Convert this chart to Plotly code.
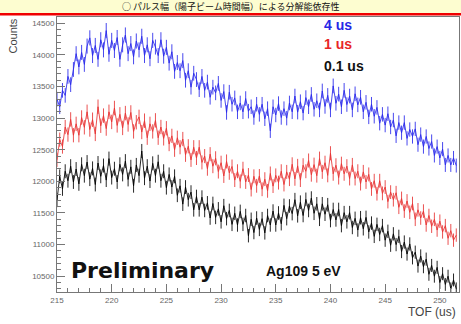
import plotly.graph_objects as go

# TOF bin centres (us), 0.25 us bins
tof_start = 215.0
tof_step = 0.25

counts_4us = [
13300,13180,13440,13360,13660,13530,13770,14020,13810,14040,
13850,14140,14270,13990,14150,13930,14240,14080,14385,14010,
14230,14070,14275,13930,14160,14315,14020,14180,13970,14220,
14080,14295,13990,14160,13940,14230,14125,13990,14240,13980,
14120,13870,14050,13740,13880,13750,13910,13600,13750,13490,
13710,13610,13450,13660,13440,13570,13330,13490,13400,13550,
13280,13420,13090,13410,13220,13320,13100,13240,13100,13310,
13110,13180,13010,13220,13060,13220,12990,13150,12800,13180,
13050,13230,13010,13150,13000,13240,13100,13350,13095,13260,
13080,13325,13180,13375,13140,13275,13130,13430,13185,13360,
13130,13510,13235,13380,13180,13440,13215,13350,13130,13385,
13210,13330,13100,13250,13020,13220,13030,13170,12920,13060,
12890,13070,12860,12970,12720,12930,12770,12930,12680,12820,
12710,12830,12580,12740,12550,12710,12520,12630,12410,12550,
12370,12510,12260,12410,12260,12370,12250]

counts_1us = [
12340,12660,12550,12860,12740,12980,12730,12910,12730,13010,
12855,13100,12820,12975,12750,13180,12880,13040,12835,13100,
12940,13160,12885,13060,12845,13080,12900,13090,12790,12935,
13020,12780,12960,12690,12910,12790,12965,12690,12860,12680,
12840,12590,12720,12500,12690,12540,12670,12420,12555,12340,
12540,12370,12540,12300,12400,12200,12430,12240,12365,12155,
12295,12085,12315,12135,12235,12020,12160,12000,12200,11990,
12100,11870,12080,11930,12085,11875,12035,11850,12125,11925,
12095,11980,12160,11950,12150,12035,12270,12040,12245,12020,
12255,12160,12330,12105,12265,12090,12360,12150,12295,12095,
12445,12120,12255,12060,12280,12120,12240,12045,12260,12045,
12160,11965,12150,11990,12110,11880,12010,11805,12010,11810,
11910,11680,11830,11710,11820,11590,11730,11530,11690,11510,
11650,11400,11550,11420,11530,11310,11460,11290,11400,11230,
11370,11200,11300,11100,11220,11070,11150]

counts_01us = [
11700,12080,11880,12160,12010,12240,11990,12195,11960,12270,
12090,12305,12035,12205,11950,12290,12080,12250,12020,12360,
12060,12200,11990,12270,12110,12320,12030,12230,11930,12260,
12090,12480,12050,12240,12005,12285,12090,12310,12010,12160,
11900,12110,11910,12080,11780,11930,11640,11910,11710,11830,
11550,11760,11550,11750,11540,11660,11420,11650,11430,11565,
11360,11615,11410,11540,11320,11495,11310,11525,11320,11460,
11140,11400,11190,11420,11240,11410,11185,11460,11310,11530,
11310,11500,11330,11620,11410,11610,11490,11710,11455,11670,
11460,11715,11540,11735,11495,11645,11400,11645,11480,11630,
11380,11555,11390,11555,11300,11505,11360,11505,11270,11415,
11230,11425,11250,11430,11200,11340,11130,11320,11160,11300,
11070,11210,10990,11170,11000,11130,10890,11040,10850,11010,
10790,10880,10660,10820,10650,10770,10530,10670,10500,10640,
10400,10540,10370,10500,10300,10440,10300]

series_names = ["4 us", "1 us", "0.1 us"]
series_counts = [counts_4us, counts_1us, counts_01us]
series_colors = ["rgba(40,40,235,0.85)", "rgba(232,50,50,0.85)", "rgba(0,0,0,0.85)"]
label_colors = ["#2626e6", "#e82626", "#111111"]

x_ticks = [215, 220, 225, 230, 235, 240, 245, 250]
y_ticks = [10500, 11000, 11500, 12000, 12500, 13000, 13500, 14000, 14500]

tof = [tof_start + tof_step * i for i in range(len(counts_4us))]

fig = go.Figure()
for name, cnt, col in zip(series_names, series_counts, series_colors):
    fig.add_trace(go.Scatter(
        x=tof, y=cnt, mode="lines", name=name,
        line=dict(color=col, width=1),
        error_y=dict(type="sqrt", color=col, thickness=1, width=0),
        showlegend=False, hoverinfo="skip",
    ))

W, H = 461, 324
L, R, T, B = 57, 2, 17, 32
ph = H - T - B

def py(p):
    return (H - B - p) / ph

def px(p):
    return (p - L) / (W - L - R)

axis_common = dict(
    showline=True, linecolor="#777", linewidth=1, mirror=True,
    ticks="inside", tickcolor="#777", ticklen=8, tickwidth=1,
    showgrid=False, zeroline=False,
    tickfont=dict(family="Liberation Sans, Arial", size=8, color="#666"),
)

fig.update_xaxes(range=[215, 251.75], tickvals=x_ticks, ticktext=[str(v) for v in x_ticks],
                 minor=dict(ticks="inside", dtick=1, tick0=215, ticklen=4, tickcolor="#777"),
                 **axis_common)
fig.update_yaxes(range=[10250, 14600], tickvals=y_ticks, ticktext=[str(v) for v in y_ticks],
                 minor=dict(ticks="inside", dtick=100, tick0=10000, ticklen=4, tickcolor="#777"),
                 **axis_common)

shapes = [
    dict(type="rect", xref="paper", yref="paper", x0=px(0), x1=px(W), y0=py(13), y1=py(0),
         fillcolor="#fdfdd0", line=dict(width=0), layer="below"),
    dict(type="rect", xref="paper", yref="paper", x0=px(0), x1=px(W), y0=py(15.5), y1=py(13),
         fillcolor="#f00000", line=dict(width=0), layer="above"),
]

annotations = [
    dict(text="○ パルス幅（陽子ビーム時間幅）による分解能依存性", xref="paper", yref="paper",
         x=px(230), y=py(6.5), xanchor="center", yanchor="middle", showarrow=False,
         font=dict(family="Noto Sans CJK JP", size=9, color="#111")),
    dict(text="Counts", xref="paper", yref="paper", x=px(12), y=1.0, textangle=-90,
         xanchor="center", yanchor="top", showarrow=False,
         font=dict(family="Liberation Sans, Arial", size=11, color="#444")),
    dict(text="TOF (us)", xref="paper", yref="paper", x=px(458), y=py(312),
         xanchor="right", yanchor="middle", showarrow=False,
         font=dict(family="Liberation Sans, Arial", size=12, color="#444")),
    dict(text="<b>Preliminary</b>", xref="paper", yref="paper", x=px(69), y=py(270),
         xanchor="left", yanchor="middle", showarrow=False,
         font=dict(family="DejaVu Sans", size=22, color="#111")),
    dict(text="<b>Ag109 5 eV</b>", xref="paper", yref="paper", x=px(264), y=py(271),
         xanchor="left", yanchor="middle", showarrow=False,
         font=dict(family="Liberation Sans, Arial", size=14, color="#111")),
]
label_y = [25, 44, 66]
for name, col, yy in zip(series_names, label_colors, label_y):
    annotations.append(dict(text="<b>" + name + "</b>", xref="paper", yref="paper",
                            x=px(322), y=py(yy), xanchor="left", yanchor="middle",
                            showarrow=False,
                            font=dict(family="Liberation Sans, Arial", size=14, color=col)))

fig.update_layout(
    width=W, height=H,
    margin=dict(l=L, r=R, t=T, b=B),
    paper_bgcolor="white", plot_bgcolor="white",
    shapes=shapes, annotations=annotations,
    showlegend=False, hovermode=False,
)

fig.write_html("out.html", config={"displayModeBar": False},
               post_script="document.body.style.margin='0';document.body.style.overflow='hidden';")
